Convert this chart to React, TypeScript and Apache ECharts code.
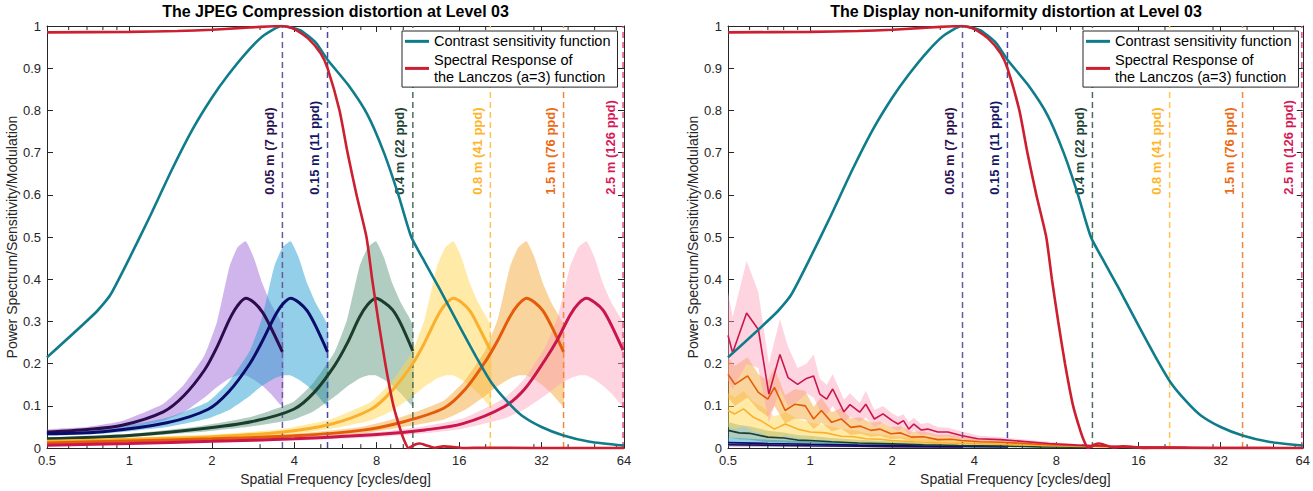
import React, { useEffect, useRef } from "react";
import * as echarts from "echarts";

const FONT = '"Liberation Sans", Arial, Helvetica, sans-serif';
const AXIS = "#262626";

const TITLES = ["The JPEG Compression distortion at Level 03", "The Display non-uniformity distortion at Level 03"];
const X_NAME = "Spatial Frequency [cycles/deg]";
const Y_NAME = "Power Spectrum/Sensitivity/Modulation";
const CSF_NAME = "Contrast sensitivity function";
const LZ_NAME = "Spectral Response of\nthe Lanczos (a=3) function";

const MINOR_TICKS = [0.6, 0.7, 0.8, 0.9, 3, 5, 6, 7, 9, 10, 20, 30, 40, 50, 60];

// Contrast sensitivity function
const CSF_F = [0.5, 0.75, 0.85, 1.0, 1.19, 1.43, 1.7, 2.0, 2.3, 2.7, 3.1, 3.6, 4.2, 4.8, 5.29, 6.3, 7.4, 8.5, 9.6, 10.7, 12, 13.5, 16, 18.5, 21, 24, 27, 32, 38.5, 48, 64];
const CSF_V = [0.215, 0.32, 0.362, 0.45, 0.55, 0.66, 0.755, 0.83, 0.885, 0.94, 0.978, 1.0, 0.99, 0.96, 0.92, 0.86, 0.79, 0.7, 0.6, 0.5, 0.44, 0.38, 0.29, 0.215, 0.155, 0.11, 0.078, 0.05, 0.03, 0.015, 0.006];

// Lanczos (a=3) spectral response
const LZ_F = [0.5, 1, 1.5, 2, 2.5, 3, 3.6, 4, 4.5, 5, 5.29, 5.85, 6.26, 6.75, 7.34, 7.7, 8.12, 8.6, 9.21, 9.8, 10.1, 10.45, 11, 11.5, 12.2, 13, 14, 15, 16.5, 20, 30, 64];
const LZ_V = [0.985, 0.986, 0.988, 0.991, 0.995, 0.998, 1.0, 0.993, 0.97, 0.935, 0.9, 0.8, 0.7, 0.6, 0.5, 0.4, 0.3, 0.2, 0.1, 0.04, 0.017, 0.0, 0.008, 0.011, 0.006, 0.001, 0.004, 0.003, 0.0, 0.001, 0.0, 0.0];

// Nyquist lines
const NYQ_F = [3.62, 5.29, 10.84, 20.8, 38.5, 63.5];
const NYQ_LABELS = ["0.05 m (7 ppd)", "0.15 m (11 ppd)", "0.4 m (22 ppd)", "0.8 m (41 ppd)", "1.5 m (76 ppd)", "2.5 m (126 ppd)"];
const LABEL_Y = 0.6;

const LINE_COLORS = ["#2d0c4e", "#0b0b6b", "#1a3d2c", "#fbb02d", "#e45c0a", "#c9174d"];
const BAND_COLORS = ["rgba(150,90,215,0.45)", "rgba(40,160,210,0.5)", "rgba(60,130,100,0.4)", "rgba(255,215,80,0.5)", "rgba(245,170,60,0.5)", "rgba(250,160,185,0.45)"];
const DASH_COLORS = ["#6a5a9c", "#4848a0", "#4e6e5e", "#ffc552", "#f0883e", "#e34d7b"];
const LABEL_COLORS = ["#2e0f50", "#151565", "#1d4334", "#ffb52a", "#ec6a12", "#d61a58"];
const CSF_COLOR = "#0e7c8b";
const LZ_COLOR = "#cc1f2f";

// ---- Left panel (JPEG) ----
const L_PURPLE_F = [0.5, 0.7, 0.94, 1.33, 1.58, 1.88, 2.09, 2.32, 2.48, 2.66, 2.85, 3.06, 3.27, 3.62];
const L_PURPLE_M = [0.038, 0.044, 0.054, 0.086, 0.124, 0.185, 0.24, 0.305, 0.337, 0.355, 0.345, 0.322, 0.288, 0.228];
const L_PURPLE_U = [0.044, 0.05, 0.064, 0.105, 0.15, 0.22, 0.3, 0.43, 0.475, 0.49, 0.45, 0.39, 0.345, 0.29];
const L_PURPLE_L = [0.032, 0.038, 0.045, 0.065, 0.085, 0.12, 0.145, 0.165, 0.172, 0.172, 0.162, 0.148, 0.13, 0.1];

const L_NAVY_F = [0.5, 0.8, 1.37, 1.94, 2.31, 2.74, 3.04, 3.38, 3.62, 3.88, 4.16, 4.46, 4.78, 5.29];
const L_NAVY_M = [0.034, 0.039, 0.06, 0.092, 0.134, 0.198, 0.25, 0.31, 0.34, 0.355, 0.345, 0.325, 0.29, 0.228];
const L_NAVY_U = [0.038, 0.045, 0.072, 0.11, 0.157, 0.228, 0.305, 0.43, 0.475, 0.49, 0.45, 0.39, 0.345, 0.29];
const L_NAVY_L = [0.03, 0.034, 0.05, 0.07, 0.09, 0.123, 0.147, 0.165, 0.172, 0.172, 0.162, 0.148, 0.13, 0.1];

const L_GREEN_F = [0.5, 1.0, 1.8, 2.81, 3.98, 4.73, 5.62, 6.24, 6.92, 7.42, 7.95, 8.52, 9.13, 9.79, 10.84];
const L_GREEN_M = [0.022, 0.03, 0.045, 0.063, 0.092, 0.132, 0.196, 0.248, 0.31, 0.34, 0.355, 0.345, 0.328, 0.295, 0.23];
const L_GREEN_U = [0.025, 0.034, 0.052, 0.075, 0.11, 0.157, 0.228, 0.305, 0.43, 0.475, 0.49, 0.45, 0.39, 0.345, 0.29];
const L_GREEN_L = [0.019, 0.026, 0.038, 0.052, 0.068, 0.088, 0.122, 0.146, 0.165, 0.172, 0.172, 0.162, 0.148, 0.13, 0.1];

const L_YELLOW_F = [0.5, 1.0, 2.0, 3.5, 5.39, 7.63, 9.07, 10.78, 11.97, 13.28, 14.23, 15.25, 16.34, 17.52, 18.77, 20.8];
const L_YELLOW_M = [0.016, 0.021, 0.027, 0.037, 0.056, 0.092, 0.135, 0.198, 0.25, 0.31, 0.34, 0.355, 0.345, 0.325, 0.29, 0.232];
const L_YELLOW_U = [0.019, 0.025, 0.032, 0.044, 0.068, 0.11, 0.157, 0.228, 0.305, 0.43, 0.475, 0.49, 0.45, 0.39, 0.345, 0.29];
const L_YELLOW_L = [0.013, 0.017, 0.022, 0.03, 0.045, 0.066, 0.088, 0.122, 0.146, 0.165, 0.172, 0.172, 0.162, 0.148, 0.13, 0.1];

const L_ORANGE_F = [0.5, 1, 2, 4, 7, 9.97, 14.1, 16.77, 19.94, 22.13, 24.55, 26.31, 28.2, 30.22, 32.39, 34.72, 38.5];
const L_ORANGE_M = [0.012, 0.017, 0.022, 0.029, 0.042, 0.062, 0.095, 0.138, 0.205, 0.255, 0.312, 0.34, 0.355, 0.345, 0.325, 0.29, 0.228];
const L_ORANGE_U = [0.014, 0.02, 0.026, 0.034, 0.05, 0.075, 0.113, 0.16, 0.232, 0.305, 0.43, 0.475, 0.49, 0.45, 0.39, 0.345, 0.29];
const L_ORANGE_L = [0.01, 0.014, 0.018, 0.024, 0.034, 0.05, 0.068, 0.09, 0.124, 0.147, 0.165, 0.172, 0.172, 0.162, 0.148, 0.13, 0.1];

const L_CRIMSON_F = [0.5, 1, 2, 4, 8, 12, 16.51, 23.35, 27.77, 33.02, 36.64, 40.66, 43.57, 46.7, 50.05, 53.65, 57.49, 63.5];
const L_CRIMSON_M = [0.007, 0.011, 0.016, 0.022, 0.032, 0.043, 0.058, 0.098, 0.14, 0.21, 0.258, 0.315, 0.342, 0.355, 0.345, 0.327, 0.292, 0.232];
const L_CRIMSON_U = [0.009, 0.013, 0.019, 0.026, 0.038, 0.052, 0.07, 0.118, 0.165, 0.24, 0.31, 0.43, 0.475, 0.49, 0.45, 0.39, 0.345, 0.295];
const L_CRIMSON_L = [0.005, 0.009, 0.013, 0.018, 0.026, 0.035, 0.046, 0.07, 0.092, 0.125, 0.148, 0.165, 0.172, 0.172, 0.162, 0.148, 0.13, 0.1];

// ---- Right panel (Display non-uniformity) ----
const R_PURPLE_F = [0.5, 0.7, 1.0, 1.5, 2.0, 3.0, 3.62];
const R_PURPLE_M = [0.008, 0.007, 0.0055, 0.0045, 0.0035, 0.003, 0.0025];
const R_PURPLE_U = [0.014, 0.012, 0.01, 0.008, 0.006, 0.005, 0.004];
const R_PURPLE_L = [0.003, 0.003, 0.002, 0.002, 0.001, 0.001, 0.001];

const R_NAVY_F = [0.5, 0.7, 1.0, 1.5, 2.0, 3.0, 4.0, 5.29];
const R_NAVY_M = [0.013, 0.011, 0.009, 0.007, 0.006, 0.0045, 0.0035, 0.003];
const R_NAVY_U = [0.025, 0.02, 0.016, 0.012, 0.01, 0.008, 0.006, 0.005];
const R_NAVY_L = [0.005, 0.004, 0.003, 0.002, 0.002, 0.0015, 0.001, 0.001];

const R_GREEN_F = [0.5, 0.55, 0.6, 0.7, 0.8, 0.9, 1.0, 1.2, 1.5, 2.0, 2.6, 3.5, 5.0, 7.0, 10.84];
const R_GREEN_M = [0.042, 0.036, 0.035, 0.026, 0.024, 0.019, 0.018, 0.015, 0.012, 0.01, 0.008, 0.006, 0.005, 0.003, 0.002];
const R_GREEN_U = [0.062, 0.055, 0.052, 0.041, 0.037, 0.031, 0.029, 0.024, 0.02, 0.016, 0.013, 0.01, 0.008, 0.005, 0.003];
const R_GREEN_L = [0.025, 0.021, 0.02, 0.014, 0.013, 0.01, 0.009, 0.008, 0.006, 0.005, 0.004, 0.003, 0.002, 0.001, 0.001];

const R_YELLOW_F = [0.5, 0.53, 0.57, 0.62, 0.66, 0.74, 0.81, 0.9, 1.0, 1.14, 1.3, 1.45, 1.6, 1.8, 1.98, 2.4, 2.94, 3.6, 5.0, 7, 10, 14, 20.8];
const R_YELLOW_M = [0.089, 0.081, 0.093, 0.073, 0.065, 0.045, 0.057, 0.045, 0.038, 0.036, 0.028, 0.027, 0.022, 0.021, 0.018, 0.015, 0.0125, 0.011, 0.009, 0.006, 0.004, 0.002, 0.001];
const R_YELLOW_U = [0.13, 0.12, 0.135, 0.11, 0.1, 0.075, 0.085, 0.07, 0.06, 0.055, 0.045, 0.042, 0.036, 0.033, 0.029, 0.024, 0.02, 0.017, 0.014, 0.009, 0.006, 0.003, 0.002];
const R_YELLOW_L = [0.05, 0.045, 0.052, 0.04, 0.035, 0.022, 0.03, 0.024, 0.02, 0.019, 0.015, 0.014, 0.011, 0.011, 0.009, 0.008, 0.006, 0.006, 0.005, 0.003, 0.002, 0.001, 0.0005];

const R_ORANGE_F = [0.5, 0.53, 0.59, 0.646, 0.7, 0.74, 0.81, 0.88, 0.96, 1.03, 1.1, 1.2, 1.3, 1.41, 1.53, 1.67, 1.8, 1.98, 2.15, 2.35, 2.6, 2.94, 3.3, 3.58, 4.2, 5.0, 6.5, 8.5, 12, 18, 26, 38.5];
const R_ORANGE_M = [0.175, 0.151, 0.171, 0.132, 0.116, 0.144, 0.089, 0.104, 0.1, 0.069, 0.089, 0.061, 0.069, 0.049, 0.052, 0.042, 0.045, 0.034, 0.036, 0.026, 0.027, 0.02, 0.021, 0.018, 0.015, 0.014, 0.01, 0.007, 0.004, 0.002, 0.001, 0.001];
const R_ORANGE_U = [0.215, 0.195, 0.215, 0.175, 0.16, 0.19, 0.125, 0.14, 0.135, 0.098, 0.12, 0.085, 0.095, 0.07, 0.073, 0.06, 0.063, 0.05, 0.052, 0.039, 0.04, 0.031, 0.032, 0.027, 0.023, 0.021, 0.015, 0.011, 0.007, 0.004, 0.002, 0.002];
const R_ORANGE_L = [0.12, 0.1, 0.12, 0.09, 0.075, 0.1, 0.058, 0.07, 0.068, 0.045, 0.06, 0.04, 0.046, 0.031, 0.034, 0.027, 0.029, 0.021, 0.023, 0.016, 0.017, 0.012, 0.013, 0.011, 0.009, 0.008, 0.006, 0.004, 0.002, 0.001, 0.0005, 0.0005];

const R_CRIMSON_F = [0.5, 0.52, 0.585, 0.646, 0.706, 0.775, 0.83, 0.9, 0.97, 1.03, 1.085, 1.15, 1.21, 1.33, 1.4, 1.52, 1.6, 1.72, 1.85, 2.0, 2.1, 2.2, 2.3, 2.4, 2.55, 2.7, 2.94, 3.2, 3.58, 4.12, 5.0, 6.0, 7.5, 9.5, 12, 16, 24, 36, 50, 63.5];
const R_CRIMSON_M = [0.267, 0.226, 0.32, 0.281, 0.128, 0.222, 0.167, 0.151, 0.165, 0.171, 0.128, 0.116, 0.14, 0.086, 0.103, 0.085, 0.104, 0.069, 0.081, 0.065, 0.057, 0.065, 0.045, 0.057, 0.043, 0.045, 0.038, 0.038, 0.03, 0.022, 0.02, 0.016, 0.011, 0.007, 0.005, 0.003, 0.002, 0.0015, 0.001, 0.001];
const R_CRIMSON_U = [0.37, 0.31, 0.443, 0.37, 0.2, 0.305, 0.24, 0.19, 0.2, 0.222, 0.165, 0.15, 0.175, 0.115, 0.13, 0.107, 0.136, 0.09, 0.1, 0.082, 0.075, 0.08, 0.062, 0.072, 0.057, 0.06, 0.05, 0.048, 0.04, 0.03, 0.026, 0.021, 0.015, 0.01, 0.007, 0.005, 0.003, 0.002, 0.0015, 0.0015];
const R_CRIMSON_L = [0.16, 0.14, 0.2, 0.19, 0.06, 0.14, 0.1, 0.11, 0.13, 0.12, 0.09, 0.08, 0.1, 0.06, 0.075, 0.062, 0.072, 0.05, 0.06, 0.048, 0.04, 0.05, 0.03, 0.042, 0.03, 0.032, 0.027, 0.028, 0.021, 0.015, 0.014, 0.011, 0.007, 0.004, 0.003, 0.001, 0.001, 0.0008, 0.0005, 0.0005];

type SetT = { f: number[]; m: number[]; u: number[]; l: number[] };
const LEFT_SETS: SetT[] = [
  { f: L_PURPLE_F, m: L_PURPLE_M, u: L_PURPLE_U, l: L_PURPLE_L },
  { f: L_NAVY_F, m: L_NAVY_M, u: L_NAVY_U, l: L_NAVY_L },
  { f: L_GREEN_F, m: L_GREEN_M, u: L_GREEN_U, l: L_GREEN_L },
  { f: L_YELLOW_F, m: L_YELLOW_M, u: L_YELLOW_U, l: L_YELLOW_L },
  { f: L_ORANGE_F, m: L_ORANGE_M, u: L_ORANGE_U, l: L_ORANGE_L },
  { f: L_CRIMSON_F, m: L_CRIMSON_M, u: L_CRIMSON_U, l: L_CRIMSON_L },
];
const RIGHT_SETS: SetT[] = [
  { f: R_PURPLE_F, m: R_PURPLE_M, u: R_PURPLE_U, l: R_PURPLE_L },
  { f: R_NAVY_F, m: R_NAVY_M, u: R_NAVY_U, l: R_NAVY_L },
  { f: R_GREEN_F, m: R_GREEN_M, u: R_GREEN_U, l: R_GREEN_L },
  { f: R_YELLOW_F, m: R_YELLOW_M, u: R_YELLOW_U, l: R_YELLOW_L },
  { f: R_ORANGE_F, m: R_ORANGE_M, u: R_ORANGE_U, l: R_ORANGE_L },
  { f: R_CRIMSON_F, m: R_CRIMSON_M, u: R_CRIMSON_U, l: R_CRIMSON_L },
];

const GRIDS = [
  { left: 47, top: 26, width: 577, height: 425 },
  { left: 728, top: 26, width: 576, height: 425 },
];

function xAxes(gi: number) {
  const base = {
    type: "log",
    logBase: 2,
    min: 0.5,
    max: 64,
    gridIndex: gi,
    splitLine: { show: false },
    axisLine: { show: true, onZero: false, lineStyle: { color: AXIS, width: 1 } },
    axisTick: { show: true, inside: true, length: 6, lineStyle: { color: AXIS, width: 1 } },
  };
  return [
    {
      ...base,
      position: "bottom",
      axisLabel: { color: AXIS, fontSize: 13, fontFamily: FONT, margin: 6, formatter: (v: number) => String(Math.round(v * 100) / 100) },
      name: X_NAME,
      nameLocation: "middle",
      nameGap: 21,
      nameTextStyle: { color: AXIS, fontSize: 14, fontFamily: FONT },
    },
    { ...base, position: "top", axisLabel: { show: false } },
  ];
}

function yAxes(gi: number) {
  const base = {
    type: "value",
    min: 0,
    max: 1,
    interval: 0.1,
    gridIndex: gi,
    splitLine: { show: false },
    axisLine: { show: true, onZero: false, lineStyle: { color: AXIS, width: 1 } },
    axisTick: { show: true, inside: true, length: 6, lineStyle: { color: AXIS, width: 1 } },
  };
  return [
    {
      ...base,
      position: "left",
      axisLabel: { color: AXIS, fontSize: 13, fontFamily: FONT, margin: 6, formatter: (v: number) => String(Math.round(v * 10) / 10) },
      name: Y_NAME,
      nameLocation: "middle",
      nameGap: 18,
      nameRotate: 90,
      nameTextStyle: { color: AXIS, fontSize: 14, fontFamily: FONT },
    },
    { ...base, position: "right", axisLabel: { show: false } },
  ];
}

function bandSeries(ai: number, s: SetT, color: string, smooth: number) {
  return {
    type: "custom",
    coordinateSystem: "cartesian2d",
    xAxisIndex: ai,
    yAxisIndex: ai,
    silent: true,
    data: [[s.f[0], 0]],
    encode: { x: 0, y: 1 },
    renderItem: (_p: any, api: any) => {
      const up: number[][] = [];
      const lo: number[][] = [];
      for (let i = 0; i < s.f.length; i++) up.push(api.coord([s.f[i], s.u[i]]));
      for (let i = s.f.length - 1; i >= 0; i--) lo.push(api.coord([s.f[i], s.l[i]]));
      if (smooth > 0) {
        return {
          type: "group",
          children: [
            {
              type: "polygon",
              shape: { points: up.concat(lo), smooth: 0 },
              style: { fill: "none" },
              invisible: true,
            },
            {
              type: "polygon",
              shape: { points: up.concat(lo), smooth },
              style: { fill: color },
            },
          ],
        };
      }
      return { type: "polygon", shape: { points: up.concat(lo) }, style: { fill: color } };
    },
  };
}

function panelSeries(p: number, sets: SetT[], lw: number, smooth: number) {
  const ai = p * 2;
  const out: any[] = [];
  sets.forEach((s, k) => {
    out.push(bandSeries(ai, s, BAND_COLORS[k], smooth > 0 ? 0.15 : 0));
    out.push({
      type: "line",
      xAxisIndex: ai,
      yAxisIndex: ai,
      silent: true,
      showSymbol: false,
      symbol: "none",
      smooth: smooth > 0 ? smooth : false,
      data: s.f.map((f, i) => [f, s.m[i]]),
      lineStyle: { color: LINE_COLORS[k], width: lw },
      itemStyle: { color: LINE_COLORS[k] },
    });
  });
  // Nyquist dashed lines + labels
  out.push({
    type: "custom",
    coordinateSystem: "cartesian2d",
    xAxisIndex: ai,
    yAxisIndex: ai,
    silent: true,
    data: NYQ_F.map((f) => [f, 0]),
    encode: { x: 0, y: 1 },
    renderItem: (params: any, api: any) => {
      const i = params.dataIndex;
      const f = NYQ_F[i];
      const b = api.coord([f, 0]);
      const t = api.coord([f, 1]);
      const lp = api.coord([f, LABEL_Y]);
      return {
        type: "group",
        children: [
          { type: "line", shape: { x1: b[0], y1: b[1], x2: t[0], y2: t[1] }, style: { stroke: DASH_COLORS[i], lineWidth: 1.5, lineDash: [6, 4] } },
          {
            type: "text",
            x: lp[0] - 13,
            y: lp[1],
            rotation: Math.PI / 2,
            style: { text: NYQ_LABELS[i], fill: LABEL_COLORS[i], fontSize: 13, fontWeight: "bold", fontFamily: FONT, align: "left", verticalAlign: "middle" },
          },
        ],
      };
    },
  });
  out.push({
    type: "line",
    name: CSF_NAME,
    xAxisIndex: ai,
    yAxisIndex: ai,
    silent: true,
    showSymbol: false,
    symbol: "none",
    smooth: 0.2,
    color: CSF_COLOR,
    data: CSF_F.map((f, i) => [f, CSF_V[i]]),
    lineStyle: { color: CSF_COLOR, width: 2.6 },
    itemStyle: { color: CSF_COLOR },
  });
  out.push({
    type: "line",
    name: LZ_NAME,
    xAxisIndex: ai,
    yAxisIndex: ai,
    silent: true,
    showSymbol: false,
    symbol: "none",
    smooth: 0.2,
    color: LZ_COLOR,
    data: LZ_F.map((f, i) => [f, LZ_V[i]]),
    lineStyle: { color: LZ_COLOR, width: 2.6 },
    itemStyle: { color: LZ_COLOR },
  });
  // minor ticks (log axis, MATLAB style)
  out.push({
    type: "custom",
    coordinateSystem: "cartesian2d",
    xAxisIndex: ai,
    yAxisIndex: ai,
    silent: true,
    data: MINOR_TICKS.map((v) => [v, 0]),
    encode: { x: 0, y: 1 },
    renderItem: (params: any, api: any) => {
      const v = MINOR_TICKS[params.dataIndex];
      const b = api.coord([v, 0]);
      const t = api.coord([v, 1]);
      return {
        type: "group",
        children: [
          { type: "line", shape: { x1: b[0], y1: b[1], x2: b[0], y2: b[1] - 4 }, style: { stroke: AXIS, lineWidth: 1 } },
          { type: "line", shape: { x1: t[0], y1: t[1], x2: t[0], y2: t[1] + 4 }, style: { stroke: AXIS, lineWidth: 1 } },
        ],
      };
    },
  });
  return out;
}

function legendFor(left: number) {
  return {
    left,
    top: 31,
    orient: "vertical",
    data: [CSF_NAME, LZ_NAME],
    icon: "rect",
    itemWidth: 24,
    itemHeight: 3,
    itemGap: 2,
    padding: [2, 7, 2, 3],
    backgroundColor: "#ffffff",
    borderColor: AXIS,
    borderWidth: 1,
    borderRadius: 0,
    selectedMode: false,
    textStyle: { color: "#000", fontSize: 14.5, fontFamily: FONT, lineHeight: 16.7 },
  };
}

function buildOption() {
  return {
    animation: false,
    textStyle: { fontFamily: FONT },
    title: [
      { text: TITLES[0], left: 47 + 577 / 2, top: 3, padding: 0, textAlign: "center", textStyle: { fontSize: 16, fontWeight: "bold", color: "#000", fontFamily: FONT } },
      { text: TITLES[1], left: 728 + 576 / 2, top: 3, padding: 0, textAlign: "center", textStyle: { fontSize: 16, fontWeight: "bold", color: "#000", fontFamily: FONT } },
    ],
    grid: GRIDS,
    xAxis: [...xAxes(0), ...xAxes(1)],
    yAxis: [...yAxes(0), ...yAxes(1)],
    legend: [legendFor(402), legendFor(1083)],
    series: [...panelSeries(0, LEFT_SETS, 3, 0.3), ...panelSeries(1, RIGHT_SETS, 1.6, 0)],
  };
}

export default function App() {
  const ref = useRef<HTMLDivElement>(null);
  useEffect(() => {
    if (!ref.current) return;
    const chart = echarts.init(ref.current, undefined, { renderer: "svg" });
    chart.setOption(buildOption() as any);
    return () => chart.dispose();
  }, []);
  return <div ref={ref} style={{ position: "fixed", left: 0, top: 0, width: 1313, height: 491, background: "#fff" }} />;
}
